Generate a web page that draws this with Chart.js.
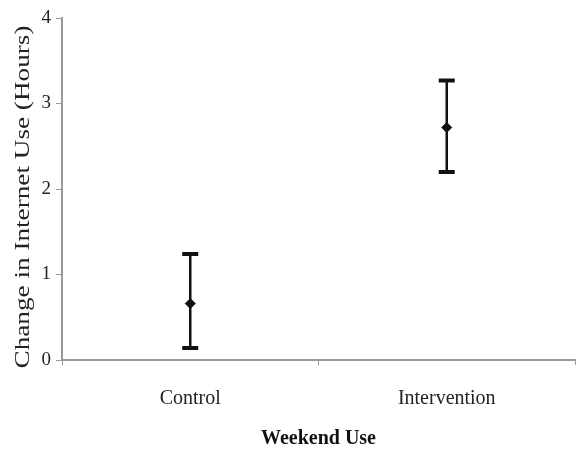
<!DOCTYPE html>
<html>
<head>
<meta charset="utf-8">
<script src="https://cdn.jsdelivr.net/npm/chart.js@4/dist/chart.umd.min.js"></script>
<style>
  html, body { margin: 0; padding: 0; background: #fff; overflow: hidden; }
  #wrap { width: 581px; height: 451px; }
</style>
</head>
<body>
<div id="wrap"><canvas id="errChart"></canvas></div>
<script>
// data
const groups = ['Control', 'Intervention'];
const means = [0.66, 2.72];
const lowerBars = [0.14, 2.2];
const upperBars = [1.24, 3.27];
const yTicks = [0, 1, 2, 3, 4];
const yTitle = 'Change in Internet Use (Hours)';

const serif = "'Liberation Serif', 'DejaVu Serif', serif";

// draws the whiskers + caps from the scale
const errorBars = {
  id: 'errorBars',
  afterDatasetsDraw(chart) {
    const { ctx, scales: { x, y } } = chart;
    ctx.save();
    ctx.strokeStyle = '#111';
    groups.forEach((g, i) => {
      const px = x.getPixelForValue(i);
      const top = y.getPixelForValue(upperBars[i]);
      const bot = y.getPixelForValue(lowerBars[i]);
      ctx.lineWidth = 2.5;
      ctx.beginPath();
      ctx.moveTo(px, top);
      ctx.lineTo(px, bot);
      ctx.stroke();
      ctx.lineWidth = 4;
      ctx.beginPath();
      ctx.moveTo(px - 8, top);
      ctx.lineTo(px + 8, top);
      ctx.moveTo(px - 8, bot);
      ctx.lineTo(px + 8, bot);
      ctx.stroke();
    });
    ctx.restore();
  }
};

// the y title in the source is stretched along its length, so draw it by hand
const tallTitle = {
  id: 'tallTitle',
  afterDraw(chart) {
    const { ctx, chartArea } = chart;
    ctx.save();
    ctx.translate(24, (chartArea.top + chartArea.bottom) / 2 + 8);
    ctx.rotate(-Math.PI / 2);
    ctx.scale(1.36, 1);
    ctx.font = '20px ' + serif;
    ctx.fillStyle = '#222';
    ctx.textAlign = 'center';
    ctx.textBaseline = 'middle';
    ctx.fillText(yTitle, 0, 0);
    ctx.restore();
  }
};

const ctx = document.getElementById('errChart').getContext('2d');
const errChart = new Chart(ctx, {
  type: 'line',
  data: {
    labels: groups,
    datasets: [{
      data: means,
      showLine: false,
      pointStyle: 'rectRot',
      pointRadius: 5,
      backgroundColor: '#111',
      borderColor: '#111',
    }]
  },
  options: {
    responsive: true,
    maintainAspectRatio: false,
    animation: false,
    layout: { padding: { top: 18, right: 0 } },
    plugins: {
      legend: { display: false },
      tooltip: { enabled: false },
    },
    scales: {
      x: {
        offset: true,
        grid: {
          display: true,
          offset: true,
          drawOnChartArea: false,
          tickLength: 5,
          color: '#999',
        },
        border: { color: '#999', width: 2 },
        ticks: { color: '#222', font: { family: serif, size: 20 }, padding: 22 },
        title: {
          display: true,
          text: 'Weekend Use',
          color: '#111',
          font: { family: serif, size: 20, weight: 'bold' },
          padding: { top: 6, bottom: 0 },
        },
        afterFit: (scale) => { scale.height = 91; },
      },
      y: {
        min: 0,
        max: 4,
        afterBuildTicks: (scale) => { scale.ticks = yTicks.map(v => ({ value: v })); },
        grid: {
          drawOnChartArea: false,
          tickLength: 6,
          color: '#999',
        },
        border: { color: '#999', width: 2 },
        ticks: { color: '#222', font: { family: serif, size: 19 }, padding: 5 },
        afterFit: (scale) => { scale.width = 62; },
      },
    },
  },
  plugins: [errorBars, tallTitle],
});
</script>
</body>
</html>
